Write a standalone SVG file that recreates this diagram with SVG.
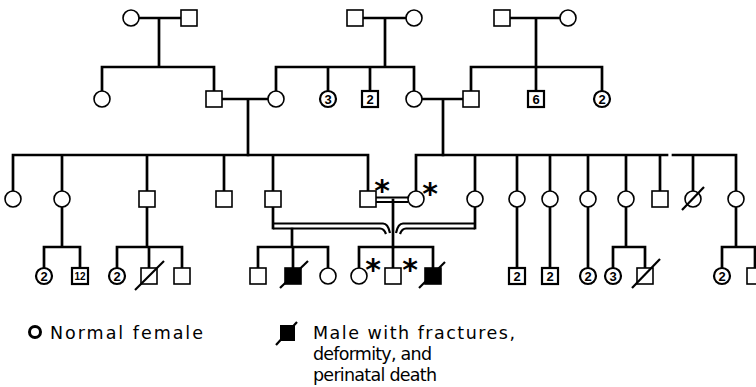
<svg xmlns="http://www.w3.org/2000/svg" width="756" height="387" viewBox="0 0 756 387">
<defs>
<style>
.ln{stroke:#000;stroke-width:2.7;fill:none;stroke-linecap:square}
.dl{stroke:#000;stroke-width:2.2;fill:none}
.s{fill:#fff;stroke:#000;stroke-width:1.6}
.sn{fill:#fff;stroke:#000;stroke-width:2.2}
.f{fill:#000;stroke:#000;stroke-width:1.6}
.sl{stroke:#000;stroke-width:2.2;fill:none}
.n{font-family:"Liberation Sans",Arial,sans-serif;font-weight:bold;font-size:13px;text-anchor:middle}
.n2{font-family:"Liberation Sans",Arial,sans-serif;font-weight:bold;font-size:10px;text-anchor:middle}
.ast{font-family:"DejaVu Sans",sans-serif;font-weight:bold;font-size:30px;text-anchor:middle}
.lg{font-family:"DejaVu Sans","Liberation Sans",sans-serif;font-size:17.5px}
</style>
</defs>
<rect width="756" height="387" fill="#fff"/>
<g id="connectors">
<path class="ln" d="M139,18H181M159,18V67M102,67H214M102,67V91M214,67V91"/>
<path class="ln" d="M363,18H406M385,18V67M276,67H414M276,67V91M328,67V91M370,67V91M414,67V91"/>
<path class="ln" d="M510,18H560M536,18V67M471,67H602M471,67V91M536,67V91M602,67V91"/>
<path class="ln" d="M222,99H268M248,99V155M422,99H463M443,99V155"/>
<path class="ln" d="M13,155H368M13,155V191M62,155V191M147,155V191M224,155V191M273,155V191M368,155V191"/>
<path class="ln" d="M416,155H667M673,155H736M416,155V191M475,155V191M517,155V191M550,155V191M588,155V191M626,155V191M660,155V191M693,155V191M736,155V191"/>
<path class="dl" d="M376,197.5H408M376,202H408"/>
<path class="ln" d="M393,200V247"/>
<path class="ln" d="M62,207V247M44,247H80M44,247V268M80,247V268"/>
<path class="ln" d="M147,207V247M117,247H182M117,247V268M149,247V268M182,247V268"/>
<path class="ln" d="M273,207V228"/>
<path class="ln" d="M475,207V228"/>
<path class="dl" d="M273,223.5H383Q388,223.5 390,233M273,228.5H380Q384,228.5 386,234"/>
<path class="dl" d="M475,223.5H403Q398,223.5 396,233M475,228.5H406Q402,228.5 400,234"/>
<path class="ln" d="M292,229V247M258,247H328M258,247V268M293,247V268M328,247V268"/>
<path class="ln" d="M359,247H433M359,247V268M393,247V268M433,247V268"/>
<path class="ln" d="M517,207V268M550,207V268M588,207V268"/>
<path class="ln" d="M626,207V247M613,247H645M613,247V268M645,247V268"/>
<path class="ln" d="M736,207V247M722,247H760M722,247V268M755,247V268"/>
</g>
<g id="g1-f1"><circle class="s" cx="131" cy="18" r="8"/></g>
<g id="g1-m1"><rect class="s" x="181" y="10" width="16" height="16"/></g>
<g id="g1-m2"><rect class="s" x="347" y="10" width="16" height="16"/></g>
<g id="g1-f2"><circle class="s" cx="414" cy="18" r="8"/></g>
<g id="g1-m3"><rect class="s" x="494" y="10" width="16" height="16"/></g>
<g id="g1-f3"><circle class="s" cx="568" cy="18" r="8"/></g>
<g id="g2-f1"><circle class="s" cx="102" cy="99" r="8"/></g>
<g id="g2-m1"><rect class="s" x="206" y="91" width="16" height="16"/></g>
<g id="g2-f2"><circle class="s" cx="276" cy="99" r="8"/></g>
<g id="g2-f3"><circle class="sn" cx="328" cy="99" r="8"/><text class="n" x="328" y="103.5">3</text></g>
<g id="g2-m2"><rect class="sn" x="362" y="91" width="16" height="16"/><text class="n" x="370" y="103.5">2</text></g>
<g id="g2-f4"><circle class="s" cx="414" cy="99" r="8"/></g>
<g id="g2-m3"><rect class="s" x="463" y="91" width="16" height="16"/></g>
<g id="g2-m4"><rect class="sn" x="528" y="91" width="16" height="16"/><text class="n" x="536" y="103.5">6</text></g>
<g id="g2-f5"><circle class="sn" cx="602" cy="99" r="8"/><text class="n" x="602" y="103.5">2</text></g>
<g id="g3-1"><circle class="s" cx="13" cy="199" r="8"/></g>
<g id="g3-2"><circle class="s" cx="62" cy="199" r="8"/></g>
<g id="g3-3"><rect class="s" x="139" y="191" width="16" height="16"/></g>
<g id="g3-4"><rect class="s" x="216" y="191" width="16" height="16"/></g>
<g id="g3-5"><rect class="s" x="265" y="191" width="16" height="16"/></g>
<g id="g3-6"><rect class="s" x="360" y="191" width="16" height="16"/><text class="ast" x="382" y="201">*</text></g>
<g id="g3-7"><circle class="s" cx="416" cy="199" r="8"/><text class="ast" x="430" y="204">*</text></g>
<g id="g3-8"><circle class="s" cx="475" cy="199" r="8"/></g>
<g id="g3-9"><circle class="s" cx="517" cy="199" r="8"/></g>
<g id="g3-10"><circle class="s" cx="550" cy="199" r="8"/></g>
<g id="g3-11"><circle class="s" cx="588" cy="199" r="8"/></g>
<g id="g3-12"><circle class="s" cx="626" cy="199" r="8"/></g>
<g id="g3-13"><rect class="s" x="652" y="191" width="16" height="16"/></g>
<g id="g3-14"><circle class="s" cx="693" cy="199" r="8"/><line class="sl" x1="682" y1="210" x2="704" y2="187"/></g>
<g id="g3-15"><circle class="s" cx="736" cy="199" r="8"/></g>
<g id="g4-1"><circle class="sn" cx="44" cy="276" r="8"/><text class="n" x="44" y="280.5">2</text></g>
<g id="g4-2"><rect class="sn" x="72" y="268" width="16" height="16"/><text class="n2" x="80" y="279.5">12</text></g>
<g id="g4-3"><circle class="sn" cx="117" cy="276" r="8"/><text class="n" x="117" y="280.5">2</text></g>
<g id="g4-4"><rect class="s" x="141" y="268" width="16" height="16"/><line class="sl" x1="135" y1="290" x2="164" y2="261"/></g>
<g id="g4-5"><rect class="s" x="174" y="268" width="16" height="16"/></g>
<g id="g4-6"><rect class="s" x="250" y="268" width="16" height="16"/></g>
<g id="g4-7"><rect class="f" x="285" y="268" width="16" height="16"/><line class="sl" x1="280" y1="288" x2="308" y2="261"/></g>
<g id="g4-8"><circle class="s" cx="328" cy="276" r="8"/></g>
<g id="g4-9"><circle class="s" cx="359" cy="276" r="8"/><text class="ast" x="373" y="280">*</text></g>
<g id="g4-10"><rect class="s" x="385" y="268" width="16" height="16"/><text class="ast" x="410" y="280">*</text></g>
<g id="g4-11"><rect class="f" x="425" y="268" width="16" height="16"/><line class="sl" x1="419" y1="288" x2="445" y2="262"/></g>
<g id="g4-12"><rect class="sn" x="509" y="268" width="16" height="16"/><text class="n" x="517" y="280.5">2</text></g>
<g id="g4-13"><rect class="sn" x="542" y="268" width="16" height="16"/><text class="n" x="550" y="280.5">2</text></g>
<g id="g4-14"><circle class="sn" cx="588" cy="276" r="8"/><text class="n" x="588" y="280.5">2</text></g>
<g id="g4-15"><circle class="sn" cx="613" cy="276" r="8"/><text class="n" x="613" y="280.5">3</text></g>
<g id="g4-16"><rect class="s" x="637" y="268" width="16" height="16"/><line class="sl" x1="632" y1="288" x2="660" y2="259"/></g>
<g id="g4-17"><circle class="sn" cx="722" cy="276" r="8"/><text class="n" x="722" y="280.5">2</text></g>
<g id="g4-18"><rect class="s" x="747" y="268" width="16" height="16"/></g>
<g id="legend">
<circle cx="35" cy="332" r="5.5" fill="none" stroke="#000" stroke-width="3"/>
<text class="lg" x="50" y="339" textLength="153" lengthAdjust="spacing">Normal female</text>
<rect x="280" y="325" width="15" height="16" fill="#000"/>
<line class="sl" x1="276" y1="345" x2="297" y2="322"/>
<text class="lg" x="313" y="339" textLength="202" lengthAdjust="spacing">Male  with fractures,</text>
<text class="lg" x="313" y="360" textLength="119" lengthAdjust="spacing">deformity, and</text>
<text class="lg" x="313" y="381" textLength="124" lengthAdjust="spacing">perinatal death</text>
</g>
</svg>
